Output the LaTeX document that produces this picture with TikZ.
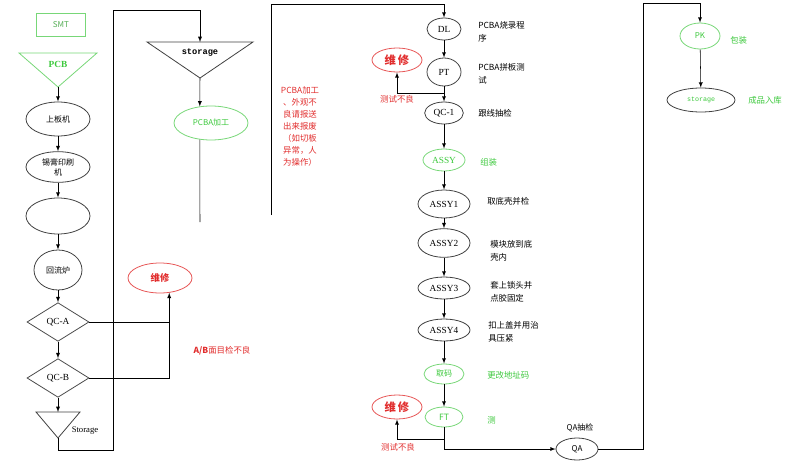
\documentclass[tikz,border=0pt]{standalone}
\usepackage{fontspec}
\setmainfont{Liberation Serif}
\newfontfamily\cjk{Noto Sans CJK SC}
\newfontfamily\monofont{Liberation Mono}
\usetikzlibrary{shapes,arrows}
\definecolor{okgreen}{RGB}{120,215,120}
\definecolor{txtgreen}{RGB}{60,200,60}
\definecolor{errred}{RGB}{225,45,45}
\tikzstyle{stage}=[ellipse,draw=black!75,line width=0.6pt,inner sep=0pt,font=\fontsize{7}{8}\selectfont]
\tikzstyle{gstage}=[stage,draw=okgreen,text=txtgreen]
\tikzstyle{repair}=[stage,draw=errred!80,text=errred,font=\cjk\bfseries\fontsize{7}{8}\selectfont]
\tikzstyle{check}=[diamond,draw=black!70,line width=0.6pt,inner sep=0pt,minimum width=46.5pt,minimum height=29pt,font=\fontsize{7}{8}\selectfont]
\tikzstyle{note}=[align=left,anchor=west,inner sep=0pt,font=\cjk\fontsize{6.3}{9.5}\selectfont]
\tikzstyle{tri}=[draw=black!75,line width=0.6pt]
\tikzstyle{arr}=[-latex,thin]
\begin{document}
\begin{tikzpicture}[x=0.75pt,y=-0.75pt]
\useasboundingbox (0,0) rectangle (800,468);
% SMT line
\node (smt) [draw=okgreen,line width=0.8pt,minimum width=37pt,minimum height=17pt,text=green!35!gray,font=\cjk\fontsize{6}{7}\selectfont] at (61,25) {SMT};
\draw [tri,draw=okgreen] (19,53) -- (97,53) -- (58,87) -- cycle;
\coordinate (pcbtip) at (58,87);
\node (pcb) [text=txtgreen,font=\bfseries\fontsize{7}{8}\selectfont] at (58,64) {PCB};
\node (load) [stage,minimum width=48pt,minimum height=25.5pt,font=\cjk\fontsize{6}{7}\selectfont] at (58,119) {上板机};
\node (print) [stage,minimum width=48pt,minimum height=23pt,align=center,font=\cjk\fontsize{6}{7.5}\selectfont] at (58,167) {锡膏印刷\\机};
\node (mount) [stage,minimum width=48pt,minimum height=27pt] at (58,216) {};
\node (reflow) [stage,minimum width=36pt,minimum height=30pt,font=\cjk\fontsize{6}{7}\selectfont] at (58,270) {回流炉};
\node (qca) [check] at (58,322) {QC-A};
\node (qcb) [check] at (58,378) {QC-B};
\draw [tri] (36,412) -- (80,412) -- (58,438) -- cycle;
\coordinate (storetop) at (58,412);
\coordinate (storetip) at (58,438);
\node (storelbl) [font=\fontsize{6.5}{7}\selectfont] at (85,431) {Storage};
\draw [arr] (pcbtip) -- (load);
\draw [arr] (load) -- (print);
\draw [arr] (print) -- (mount);
\draw [arr] (mount) -- (reflow);
\draw [arr] (reflow) -- (qca);
\draw [arr] (qca) -- (qcb);
\draw [arr] (qcb) -- (storetop);
% repair after QC-A / QC-B
\node (fixL) [repair,minimum width=48pt,minimum height=22.5pt] at (160,278) {维修};
\draw [arr] (qcb.east) -| (fixL.-58);
\draw (qca.east) -- (qca.east -| fixL.-58);
\node (abfail) [text=errred,font=\cjk\fontsize{6.3}{7}\selectfont] at (222,351) {\textbf{A/B}面目检不良};
% storage and PCBA
\draw [tri] (147,42) -- (253,42) -- (200,78) -- cycle;
\coordinate (sttop) at (200,42);
\coordinate (sttip) at (200,78);
\node (stlbl) [font=\monofont\bfseries\fontsize{6.5}{7}\selectfont] at (200,53) {storage};
\coordinate (loopL) at (113,450);
\coordinate (loopT) at (113,10);
\draw [arr] (storetip) |- (loopL) -- (loopT) -| (sttop);
\node (pcba) [gstage,minimum width=55.5pt,minimum height=25.5pt,font=\cjk\fontsize{6}{7}\selectfont] at (211,123) {PCBA加工};
\draw [arr] (sttip) -- (pcba.124);
\coordinate (pcbaend) at (200,222);
\draw (pcba.-124) -- (pcbaend);
\node (scrap) [anchor=north,align=center,text=errred,font=\cjk\fontsize{6.3}{9}\selectfont] at (300,82) {PCBA加工\\、外观不\\良请报送\\出来报废\\（如切板\\异常，人\\为操作）};
% test and assembly line
\node (dl) [stage,minimum width=25.5pt,minimum height=16.5pt] at (444,29) {DL};
\node (pt) [stage,minimum width=25.5pt,minimum height=21pt] at (444,72) {PT};
\node (fixR) [repair,minimum width=37.5pt,minimum height=18pt,font=\cjk\bfseries\fontsize{8.5}{9}\selectfont] at (397,60) {维\,修};
\node (qc1) [stage,minimum width=29pt,minimum height=16.5pt] at (444,113) {QC-1};
\node (assy) [gstage,minimum width=31.5pt,minimum height=16.5pt] at (444,160) {ASSY};
\node (assy1) [stage,minimum width=39pt,minimum height=21pt] at (444,204) {ASSY1};
\node (assy2) [stage,minimum width=39pt,minimum height=21.5pt] at (444,243) {ASSY2};
\node (assy3) [stage,minimum width=39pt,minimum height=16.5pt] at (444,288) {ASSY3};
\node (assy4) [stage,minimum width=39pt,minimum height=16.5pt] at (444,330) {ASSY4};
\node (code) [gstage,minimum width=30pt,minimum height=15pt,font=\cjk\fontsize{6}{7}\selectfont] at (444,374) {取码};
\node (ft) [gstage,minimum width=28.5pt,minimum height=15pt,font=\cjk\fontsize{6.5}{7}\selectfont] at (444,417) {FT};
\node (fixR2) [repair,minimum width=37.5pt,minimum height=18pt,font=\cjk\bfseries\fontsize{8.5}{9}\selectfont] at (397,407) {维\,修};
\node (qa) [stage,minimum width=31.5pt,minimum height=16.5pt,font=\cjk\fontsize{6}{7}\selectfont] at (577,449) {QA};
\coordinate (feedB) at (271,215);
\coordinate (feedT) at (271,4);
\draw [arr] (feedB) -- (feedT) -| (dl);
\draw [arr] (dl) -- (pt);
\draw [arr] (pt) -- (qc1);
\coordinate (ptfail) at (444,93);
\draw [arr] (ptfail) -| (fixR);
\draw [arr] (qc1) -- (assy);
\draw [arr] (assy) -- (assy1);
\draw [arr] (assy1) -- (assy2);
\draw [arr] (assy2) -- (assy3);
\draw [arr] (assy3) -- (assy4);
\draw [arr] (assy4) -- (code);
\draw [arr] (code) -- (ft);
\coordinate (ftfail) at (444,439);
\draw [arr] (ftfail) -| (fixR2);
\draw [arr] (ft) |- (qa);
\node (n1) [note] at (478,32) {PCBA烧录程\\序};
\node (n2) [note] at (478,74) {PCBA拼板测\\试};
\node (n3) [note] at (478,113) {跟线抽检};
\node (n4) [note,text=txtgreen] at (480,162) {组装};
\node (n5) [note] at (487,201) {取底壳并检};
\node (n6) [note] at (490,251) {模块放到底\\壳内};
\node (n7) [note] at (490,292) {套上锁头并\\点胶固定};
\node (n8) [note] at (488,332) {扣上盖并用治\\具压紧};
\node (n9) [note,text=txtgreen] at (487,375) {更改地址码};
\node (n10) [note,text=txtgreen] at (487,420) {测};
\node (fail1) [text=errred,font=\cjk\fontsize{6.3}{7}\selectfont] at (397,99) {测试不良};
\node (fail2) [text=errred,font=\cjk\fontsize{6.3}{7}\selectfont] at (398,447) {测试不良};
\node (qalbl) [font=\cjk\fontsize{6}{7}\selectfont] at (580,428) {QA抽检};
% packing
\node (pk) [gstage,minimum width=30pt,minimum height=19.5pt,font=\cjk\fontsize{6}{7}\selectfont] at (700,36) {PK};
\node (fin) [stage,minimum width=51pt,minimum height=18pt,text=txtgreen,font=\monofont\fontsize{5}{6}\selectfont] at (701,100) {storage};
\coordinate (qaR) at (643,449);
\coordinate (qaT) at (643,3);
\draw [arr] (qa) -- (qaR) -- (qaT) -| (pk);
\draw [arr] (pk) -- (fin);
\node (n11) [note,text=txtgreen] at (730,40) {包装};
\node (n12) [note,text=txtgreen] at (748,100) {成品入库};
\end{tikzpicture}
\end{document}
